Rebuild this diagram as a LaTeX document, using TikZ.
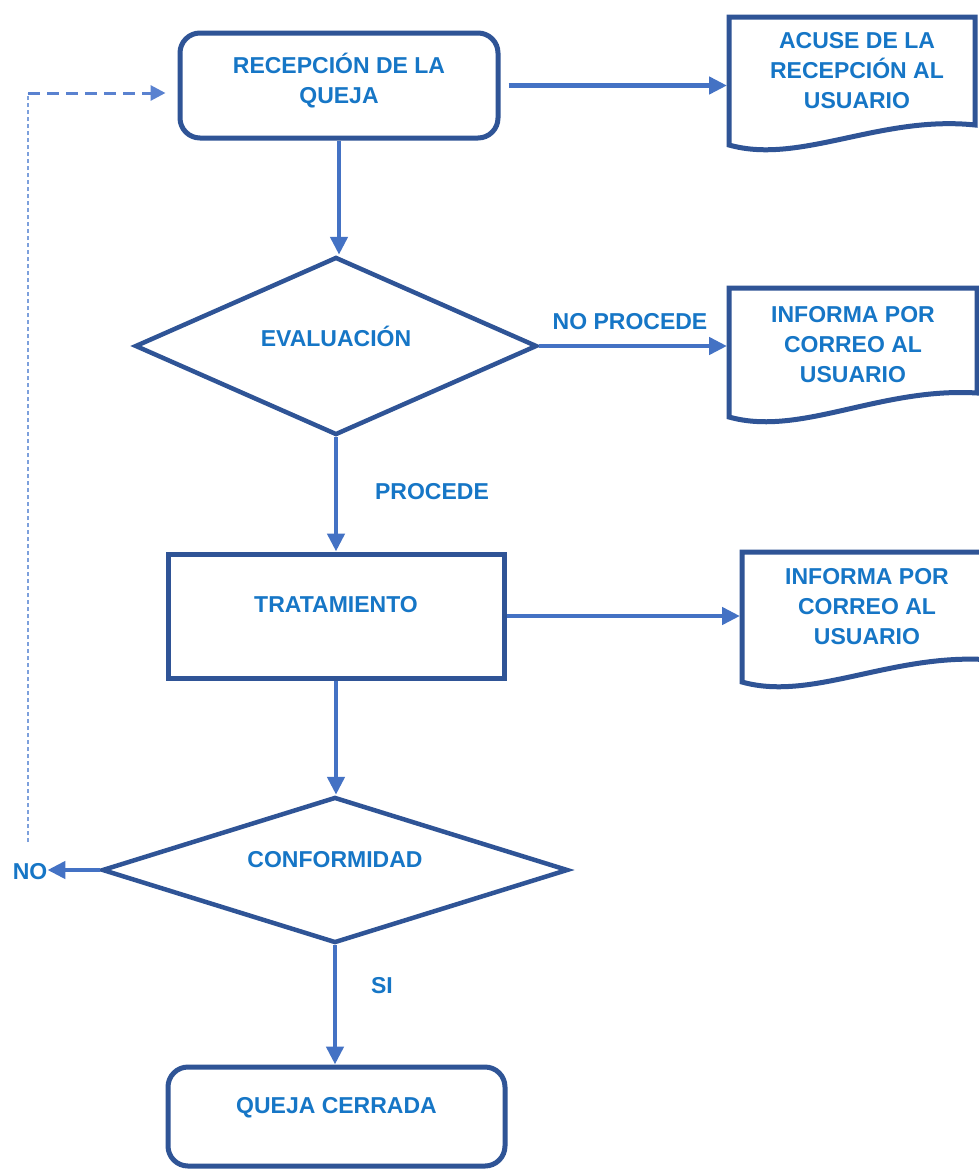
\documentclass[tikz,border=0pt]{standalone}
\usepackage{fontspec}
\setmainfont{Liberation Sans}
\usetikzlibrary{shapes.geometric,arrows.meta,calc}
\definecolor{txtblue}{RGB}{22,118,198}
\definecolor{edgeblue}{RGB}{47,84,150}
\definecolor{arrblue}{RGB}{68,114,196}
\definecolor{dotblue}{RGB}{125,160,220}
\definecolor{dashblue}{RGB}{90,130,208}
\begin{document}
\begin{tikzpicture}[x=1pt,y=-1pt,
  lbl/.style={font=\fontsize{23}{30}\selectfont\bfseries, text=txtblue, align=center, inner sep=0pt},
  procbox/.style={draw=edgeblue, line width=5pt, fill=white, inner sep=0pt},
  roundbox/.style={procbox, rounded corners=20pt},
  decision/.style={diamond, draw=edgeblue, line width=4.5pt, fill=white, inner sep=0pt},
  docframe/.style={inner sep=0pt, outer sep=0pt},
  docline/.style={draw=edgeblue, line width=5pt, fill=white, line join=miter},
  flow/.style={draw=arrblue, line width=4.5pt, -{Triangle[length=18pt,width=17pt]}},
  backdot/.style={draw=dotblue, line width=2.5pt, dash pattern=on 4pt off 3pt},
  backdash/.style={draw=dashblue, line width=3pt, dash pattern=on 12pt off 7pt, -{Triangle[length=15pt,width=15pt]}},
]
\clip (0,0) rectangle (979,1170);
\fill[white] (0,0) rectangle (979,1170);

% main column
\node[roundbox, minimum width=318pt, minimum height=105pt,
  label={[lbl,yshift=4.5pt]center:{RECEPCIÓN DE LA\\QUEJA}}] (b1) at (339,85.5) {};
\node[decision, minimum width=402pt, minimum height=178pt,
  label={[lbl,yshift=10pt]center:EVALUACIÓN}] (d1) at (336,346) {};
\node[procbox, minimum width=336pt, minimum height=124pt,
  label={[lbl,yshift=11pt]center:TRATAMIENTO}] (b3) at (336,616) {};
\node[decision, minimum width=466pt, minimum height=146pt,
  label={[lbl,yshift=10pt]center:CONFORMIDAD}] (d2) at (335,870) {};
\node[roundbox, minimum width=337pt, minimum height=99pt,
  label={[lbl,yshift=8.5pt]center:QUEJA CERRADA}] (b5) at (336.5,1116.5) {};

% documents
\node[docframe, minimum width=246pt, minimum height=128pt] (doc1) at (852,81) {};
\draw[docline] (doc1.south west) -- (doc1.north west) -- (doc1.north east)
  -- ($(doc1.north east)+(0,108)$)
  .. controls ($(doc1.south west)+(151,-30)$) and ($(doc1.south west)+(71,20)$) .. (doc1.south west) -- cycle;
\node[lbl] (t1) at ($(doc1.center)+(5,-10)$) {ACUSE DE LA\\RECEPCIÓN AL\\USUARIO};

\node[docframe, minimum width=248pt, minimum height=129pt] (doc2) at (853,352.5) {};
\draw[docline] (doc2.south west) -- (doc2.north west) -- (doc2.north east)
  -- ($(doc2.north east)+(0,105)$)
  .. controls ($(doc2.south west)+(151,-30)$) and ($(doc2.south west)+(71,20)$) .. (doc2.south west) -- cycle;
\node[lbl] (t2) at ($(doc2.center)+(0,-7.5)$) {INFORMA POR\\CORREO AL\\USUARIO};

\node[docframe, minimum width=250pt, minimum height=130pt] (doc3) at (867,617) {};
\draw[docline] (doc3.south west) -- (doc3.north west) -- (doc3.north east)
  -- ($(doc3.north east)+(0,108)$)
  .. controls ($(doc3.south west)+(151,-30)$) and ($(doc3.south west)+(71,20)$) .. (doc3.south west) -- cycle;
\node[lbl] (t3) at ($(doc3.center)+(0,-10)$) {INFORMA POR\\CORREO AL\\USUARIO};

% labels
\node[lbl] (lNP) at (630,322) {NO PROCEDE};
\node[lbl] (lP) at (432,492) {PROCEDE};
\node[lbl] (lSI) at (382,986) {SI};
\node[lbl] (lNO) at (30,872) {NO};

% flow connectors
\draw[flow] (b1.south) -- (b1.south |- d1.north);
\draw[flow] (d1.south) -- (d1.south |- b3.north);
\draw[flow] (b3.south) -- (b3.south |- d2.north);
\draw[flow] (d2.south) -- (d2.south |- b5.north);
\draw[flow, shorten <=8pt, shorten >=2pt] (b1.east) -- (b1.east -| doc1.west);
\draw[flow, shorten >=2pt] (d1.east) -- (d1.east -| doc2.west);
\draw[flow, shorten >=2pt] (b3.east) -- (b3.east -| doc3.west);
\draw[flow] (d2.west) -- (d2.west -| lNO.east);

% return loop
\coordinate (r1) at (28,842);
\coordinate (r2) at (28,93);
\draw[backdot] (r1) -- (r2);
\draw[backdash, shorten >=12pt] (r2) -- (b1.west |- r2);
\end{tikzpicture}
\end{document}
